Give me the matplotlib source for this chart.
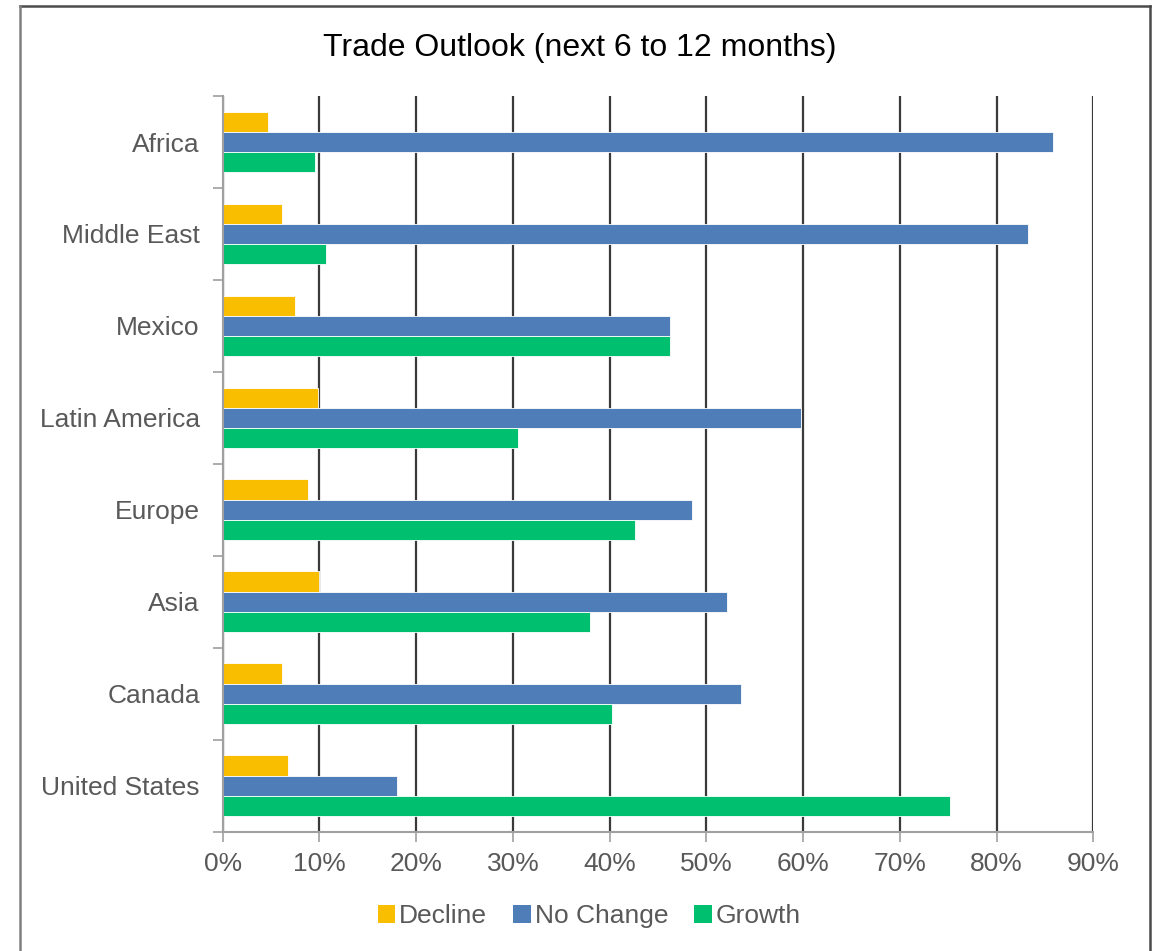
import numpy as np
import matplotlib
matplotlib.use("Agg")
import matplotlib.pyplot as plt
from matplotlib.lines import Line2D
from matplotlib.patches import Patch
from matplotlib.ticker import FixedLocator, PercentFormatter

plt.rcParams["font.family"] = ["Liberation Sans", "DejaVu Sans"]

# -----------------------------
# Data (bottom to top)
# -----------------------------
categories = ["United States", "Canada", "Asia", "Europe",
              "Latin America", "Mexico", "Middle East", "Africa"]
decline = [6.8, 6.1, 10.0, 8.8, 9.8, 7.5, 6.1, 4.7]
no_change = [18.0, 53.6, 52.1, 48.5, 59.8, 46.2, 83.2, 85.8]
growth = [75.2, 40.2, 38.0, 42.6, 30.5, 46.2, 10.7, 9.5]
xticks = [0, 10, 20, 30, 40, 50, 60, 70, 80, 90]

series_names = ["Decline", "No Change", "Growth"]
colors = ["#F9BE00", "#4F7DB8", "#00BF6E"]
text_gray = "#595959"

fig = plt.figure(figsize=(11.6, 9.51), dpi=100)
ax = fig.add_axes([0.192, 0.1255, 0.7505, 0.7735])

y = np.arange(len(categories))
h = 0.22
ax.barh(y + h, decline, height=h, color=colors[0], edgecolor="white", linewidth=0.6, zorder=3)
ax.barh(y, no_change, height=h, color=colors[1], edgecolor="white", linewidth=0.6, zorder=3)
ax.barh(y - h, growth, height=h, color=colors[2], edgecolor="white", linewidth=0.6, zorder=3)

ax.set_xlim(0, 90)
ax.set_ylim(-0.5, len(categories) - 0.5)

# -----------------------------
# Axes styling
# -----------------------------
ax.set_xticks(xticks)
ax.xaxis.set_major_formatter(PercentFormatter(decimals=0))
ax.tick_params(axis="x", length=7, width=1.2, color="#A0A0A0",
               labelsize=19, labelcolor=text_gray, pad=8)

ax.set_yticks(y)
ax.set_yticklabels(categories)
ax.tick_params(axis="y", which="major", length=0, labelsize=19,
               labelcolor=text_gray, pad=16.5)
ax.yaxis.set_minor_locator(FixedLocator(np.arange(-0.5, len(categories), 1.0)))
ax.tick_params(axis="y", which="minor", length=7, width=1.2, color="#A0A0A0")

ax.grid(axis="x", color="#3a3a3a", linewidth=1.6, zorder=0)
ax.set_axisbelow(True)
for side in ["top", "right"]:
    ax.spines[side].set_visible(False)
for side in ["left", "bottom"]:
    ax.spines[side].set_color("#A0A0A0")
    ax.spines[side].set_linewidth(1.5)
    ax.spines[side].set_zorder(4)

# -----------------------------
# Title, legend, frame
# -----------------------------
fig.text(0.5, 1 - 48 / 951, "Trade Outlook (next 6 to 12 months)",
         ha="center", va="center", fontsize=23, color="#000000")

handles = [Patch(facecolor=c, edgecolor="none") for c in colors]
fig.legend(handles, series_names, loc="center", bbox_to_anchor=(0.508, 1 - 916 / 951),
           ncol=3, frameon=False, fontsize=19, labelcolor=text_gray,
           handlelength=0.65, handleheight=0.65, handletextpad=0.15,
           columnspacing=1.0)

x0, x1 = 19.5 / 1160, 1150 / 1160
ytop = 1 - 6 / 951
fig.add_artist(Line2D([x0, x1], [ytop, ytop], transform=fig.transFigure,
                      color="#4a4a4a", linewidth=1.8))
fig.add_artist(Line2D([x1, x1], [ytop, -0.01], transform=fig.transFigure,
                      color="#4a4a4a", linewidth=1.8))
fig.add_artist(Line2D([x0, x0], [ytop, -0.01], transform=fig.transFigure,
                      color="#808080", linewidth=1.8))

plt.savefig("out.png", dpi=100)
plt.close()
